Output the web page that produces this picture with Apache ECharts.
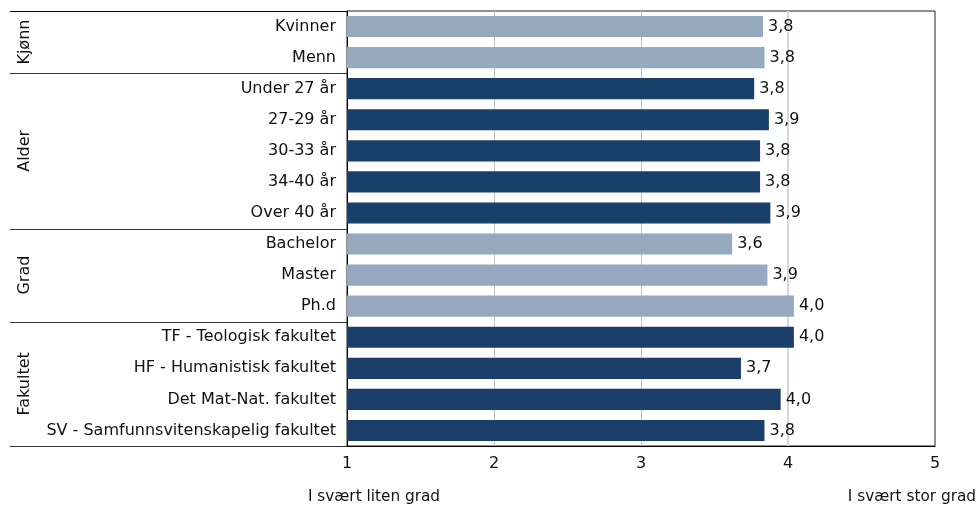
<!DOCTYPE html>
<html><head><meta charset="utf-8">
<script src="https://cdn.jsdelivr.net/npm/echarts@6/dist/echarts.min.js"></script>
<style>html,body{margin:0;padding:0;background:#fff}#c{width:980px;height:506px}</style>
</head><body><div id="c"></div>
<script>
const categories = ['Kvinner','Menn','Under 27 år','27-29 år','30-33 år','34-40 år','Over 40 år','Bachelor','Master','Ph.d','TF - Teologisk fakultet','HF - Humanistisk fakultet','Det Mat-Nat. fakultet','SV - Samfunnsvitenskapelig fakultet'];
const values = [3.83,3.84,3.77,3.87,3.81,3.81,3.88,3.62,3.86,4.04,4.04,3.68,3.95,3.84];
const groups = ['Kjønn','Alder','Grad','Fakultet'];
const groupSizes = [2,5,3,4];
const groupColors = ['#95a9bf','#1a3f6a','#95a9bf','#1a3f6a'];
const xTicks = [1,2,3,4,5];
const scaleEndLabels = ['I svært liten grad','I svært stor grad'];

const FONT = 'DejaVu Sans';
const FS = 16;
const TXT = '#111';

const barColors = [];
groups.forEach((g,gi)=>{ for(let k=0;k<groupSizes[gi];k++) barColors.push(groupColors[gi]); });

const chart = echarts.init(document.getElementById('c'));
const grid = {left:347, right:45, top:11, bottom:60, show:true, borderColor:'#222', borderWidth:1, backgroundColor:'transparent'};
chart.setOption({
  animation:false,
  textStyle:{fontFamily:FONT},
  grid:[grid],
  xAxis:[{
    type:'value', min:xTicks[0], max:xTicks[xTicks.length-1], interval:1,
    axisLine:{show:true, lineStyle:{color:'#000'}},
    axisTick:{show:false},
    axisLabel:{color:TXT, fontSize:FS, fontFamily:FONT, margin:10},
    splitLine:{show:true, lineStyle:{color:['transparent','#c4c4c4','#c4c4c4','transparent','transparent'], width:1}}
  },{
    type:'value', min:1, max:5, interval:3, position:'bottom',
    axisLine:{show:false}, axisTick:{show:false}, axisLabel:{show:false},
    splitLine:{show:true, lineStyle:{color:['transparent','#d3dadf'], width:2}}
  }],
  yAxis:{
    type:'category', data:categories, inverse:true,
    axisLine:{show:true, lineStyle:{color:'#000'}},
    axisTick:{show:false},
    axisLabel:{color:TXT, fontSize:FS, fontFamily:FONT, margin:11},
    splitLine:{show:false}
  },
  series:[{
    type:'bar', xAxisIndex:0,
    data: values.map((v,i)=>({value:v, itemStyle:{color:barColors[i]}})),
    barCategoryGap:'32%',
    label:{show:true, position:'right', distance:5, color:TXT, fontSize:FS, fontFamily:FONT,
      formatter:p=>p.value.toFixed(1).replace('.',',')}
  }]
});

const centers = categories.map(c=>chart.convertToPixel({yAxisIndex:0}, c));
const band = centers[1]-centers[0];
const gTop = centers[0]-band/2;
const leftX = 10, plotLeft = chart.convertToPixel({xAxisIndex:0}, xTicks[0]);
const plotRight = chart.convertToPixel({xAxisIndex:0}, xTicks[xTicks.length-1]);
const graphic = [];
let idx = 0;
const bounds = [gTop];
groups.forEach((g,gi)=>{
  const start = idx, end = idx+groupSizes[gi]-1;
  const y0 = centers[start]-band/2, y1 = centers[end]+band/2;
  bounds.push(y1);
  graphic.push({type:'text', rotation:Math.PI/2, x:25, y:(y0+y1)/2,
    style:{text:g, font:FS+'px "'+FONT+'"', fill:TXT, align:'center', verticalAlign:'middle'}});
  idx = end+1;
});
bounds.forEach((y,i)=>{
  graphic.push({type:'line', shape:{x1:leftX, y1:Math.round(y)+0.5, x2:plotLeft, y2:Math.round(y)+0.5},
    style:{stroke: (i===0)?'#000':'#333', lineWidth:1}});
});
const labelY = chart.convertToPixel({yAxisIndex:0}, categories[categories.length-1]) + band/2 + 51;
graphic.push({type:'text', x:plotLeft+27, y:labelY,
  style:{text:scaleEndLabels[0], font:'15.3px "'+FONT+'"', fill:TXT, align:'center', verticalAlign:'middle'}});
graphic.push({type:'text', x:plotRight+41, y:labelY,
  style:{text:scaleEndLabels[1], font:'15.3px "'+FONT+'"', fill:TXT, align:'right', verticalAlign:'middle'}});
chart.setOption({graphic});
</script></body></html>
